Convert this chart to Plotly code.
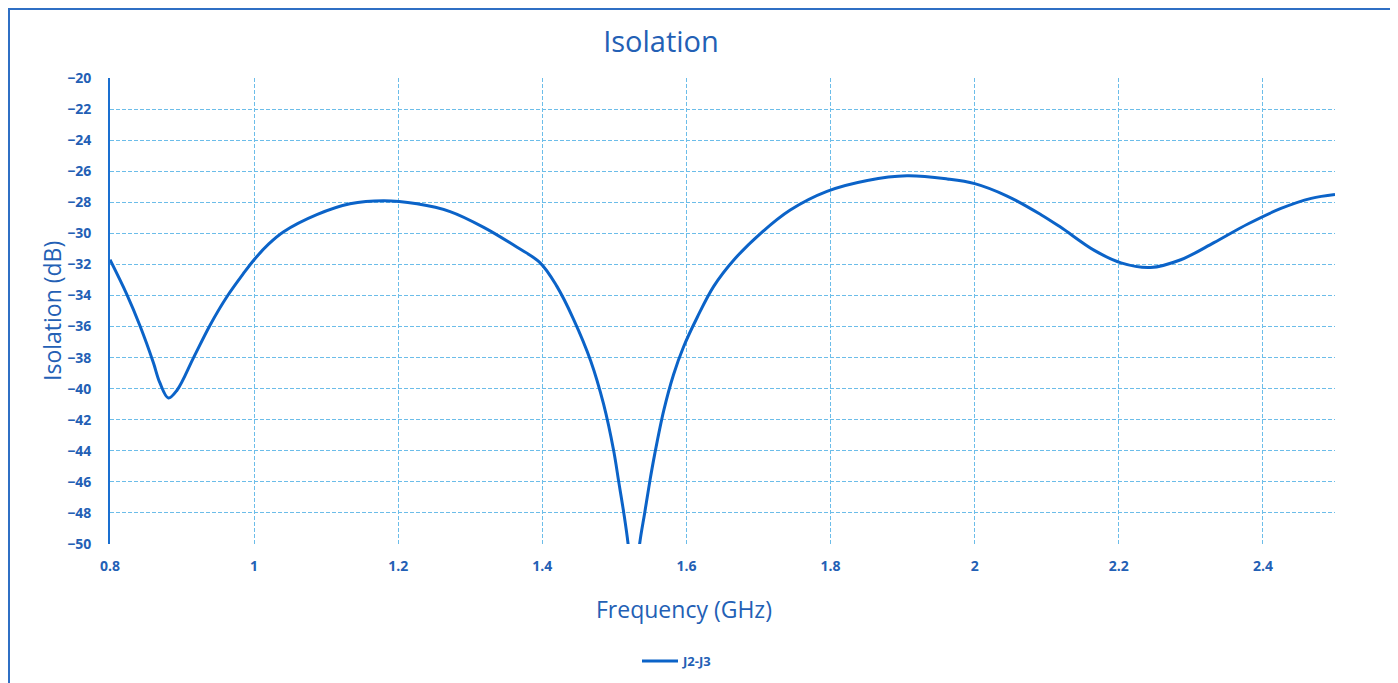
import plotly.graph_objects as go

freq_ghz = [0.800, 0.823, 0.842, 0.860, 0.869, 0.881, 0.893, 0.916, 0.939, 0.962, 0.985, 1.000,
            1.020, 1.041, 1.087, 1.133, 1.180, 1.226, 1.272, 1.318, 1.365, 1.397, 1.420, 1.443,
            1.467, 1.485, 1.499, 1.506, 1.513, 1.519, 1.527, 1.535, 1.542, 1.549, 1.556, 1.5685,
            1.582, 1.596, 1.615, 1.638, 1.666, 1.703, 1.744, 1.795, 1.851, 1.906, 1.962, 2.000,
            2.045, 2.092, 2.119, 2.166, 2.203, 2.244, 2.286, 2.332, 2.379, 2.425, 2.467, 2.500]
isolation_db = [-31.7, -33.9, -36.0, -38.3, -39.6, -40.6, -40.1, -38.0, -35.9, -34.1, -32.6, -31.7,
                -30.7, -29.9, -28.8, -28.1, -27.9, -28.1, -28.6, -29.6, -30.9, -31.9, -33.4, -35.5,
                -38.2, -41.0, -44.0, -46.0, -48.0, -50.0, -54.0, -50.0, -48.0, -46.0, -44.2, -41.4,
                -39.1, -37.3, -35.4, -33.4, -31.7, -30.0, -28.5, -27.3, -26.6, -26.3, -26.5, -26.8,
                -27.6, -28.8, -29.6, -31.1, -31.9, -32.2, -31.7, -30.6, -29.4, -28.4, -27.75, -27.5]
series_name = "J2-J3"
x_ticks = [0.8, 1.0, 1.2, 1.4, 1.6, 1.8, 2.0, 2.2, 2.4]
x_tick_labels = ["0.8", "1", "1.2", "1.4", "1.6", "1.8", "2", "2.2", "2.4"]
y_ticks = list(range(-50, -18, 2))

line_blue = "#0b63c8"
text_blue = "#2360b5"
grid_blue = "#6cbde9"
font_family = "Open Sans, Noto Sans, sans-serif"

# page body has an 8px margin; figure is sized so that it fits the 1398x683 window
FIG_W, FIG_H = 1390, 675
OFF = 8
PL, PR, PT, PB = 110, 1335, 78, 544  # plot area in window pixels
pw, ph = PR - PL, PB - PT

def px(xw):
    return (xw - PL) / pw

def py(yw):
    return (PB - yw) / ph

fig = go.Figure()
fig.add_trace(go.Scatter(
    x=freq_ghz, y=isolation_db, mode="lines", name=series_name,
    line=dict(color=line_blue, width=3, shape="spline", smoothing=1.0),
))

fig.update_layout(
    width=FIG_W, height=FIG_H,
    margin=dict(l=PL - OFF, r=OFF + FIG_W - PR, t=PT - OFF, b=OFF + FIG_H - PB,
                autoexpand=False),
    paper_bgcolor="white", plot_bgcolor="white",
    font=dict(family=font_family, color=text_blue),
    title=dict(text="Isolation", x=(661 - OFF) / FIG_W, xanchor="center",
               y=1 - (42 - OFF) / FIG_H, yanchor="middle",
               font=dict(size=29, color=text_blue, family=font_family)),
    showlegend=True,
    legend=dict(orientation="h", x=px(677), xanchor="center", y=py(661), yanchor="middle",
                font=dict(size=13, color=text_blue, family=font_family, weight="bold"),
                itemwidth=36, bgcolor="rgba(0,0,0,0)"),
)

fig.update_xaxes(
    range=[0.8, 2.5], tickvals=x_ticks, ticktext=x_tick_labels,
    showgrid=True, gridcolor=grid_blue, griddash="4px,2px", gridwidth=1,
    zeroline=False, showline=False, ticks="", automargin=False,
    ticklabelstandoff=12,
    tickfont=dict(size=14, color=text_blue, family=font_family, weight="bold"),
)
fig.update_yaxes(
    range=[-50, -20], tickvals=y_ticks,
    showgrid=True, gridcolor=grid_blue, griddash="4px,2px", gridwidth=1,
    zeroline=False, showline=True, linecolor="#1a6fd0", linewidth=2, ticks="",
    automargin=False, ticklabelstandoff=14,
    tickfont=dict(size=14, color=text_blue, family=font_family, weight="bold"),
)

# axis titles placed at their positions in the reference
fig.add_annotation(text="Frequency (GHz)", xref="paper", yref="paper",
                   x=px(684), y=py(609), xanchor="center", yanchor="middle", showarrow=False,
                   font=dict(size=23, color=text_blue, family=font_family))
fig.add_annotation(text="Isolation (dB)", xref="paper", yref="paper", textangle=-90,
                   x=px(52), y=py(311), xanchor="center", yanchor="middle", showarrow=False,
                   font=dict(size=23, color=text_blue, family=font_family))

# outer chart frame
fig.add_shape(type="rect", xref="paper", yref="paper",
              x0=px(9), x1=px(1392),
              y0=py(700), y1=py(9),
              line=dict(color="#2f6fc4", width=2), fillcolor="rgba(0,0,0,0)", layer="above")

fig.write_html("out.html")
